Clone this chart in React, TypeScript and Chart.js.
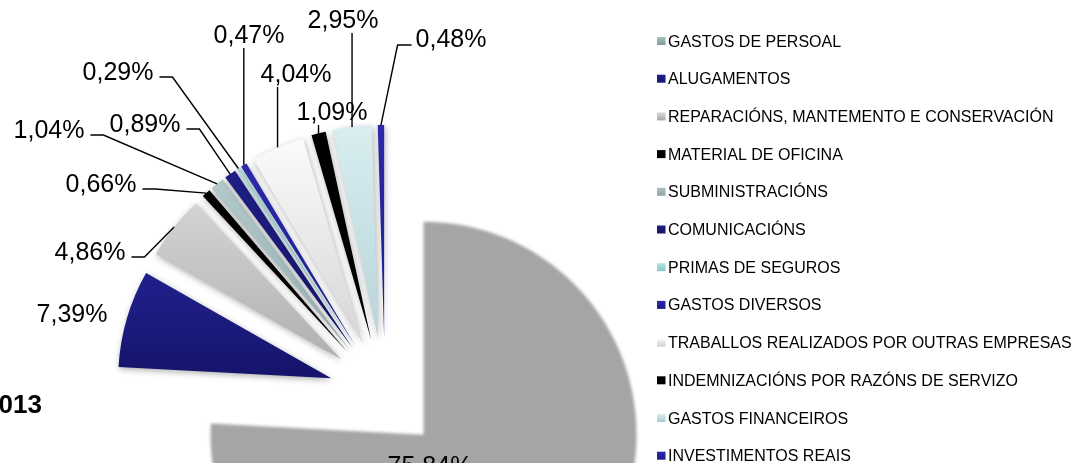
import React, { useEffect, useRef } from 'react';
import { Chart, registerables } from 'chart.js';

Chart.register(...registerables);

// ---------- data ----------
const CATEGORIES = [
  'GASTOS DE PERSOAL',
  'ALUGAMENTOS',
  'REPARACIÓNS, MANTEMENTO E CONSERVACIÓN',
  'MATERIAL DE OFICINA',
  'SUBMINISTRACIÓNS',
  'COMUNICACIÓNS',
  'PRIMAS DE SEGUROS',
  'GASTOS DIVERSOS',
  'TRABALLOS REALIZADOS POR OUTRAS EMPRESAS',
  'INDEMNIZACIÓNS POR RAZÓNS DE SERVIZO',
  'GASTOS FINANCEIROS',
  'INVESTIMENTOS REAIS',
];
const SHARES = [75.84, 7.39, 4.86, 0.66, 1.04, 0.89, 0.29, 0.47, 4.04, 1.09, 2.95, 0.48];
const VALUE_LABELS = SHARES.map((v) => v.toFixed(2).replace('.', ',') + '%');
const YEAR_LABEL = '2013';

// ---------- styles ----------
const SLICE_TOP = ['#A5A5A5', '#20208E', '#D4D4D4', '#000000', '#B2C8CA', '#1E1E86', '#B0E0E2', '#2A2AAA', '#FBFBFB', '#000000', '#D8EEF1', '#2A2AAA'];
const SLICE_BOTTOM = ['#A5A5A5', '#14146A', '#B0B0B0', '#000000', '#97AFB1', '#141466', '#96CCCE', '#1C1C8C', '#D6D6D6', '#000000', '#B8D4D8', '#1C1C8C'];
const SWATCH_TOP = ['#A9C2C2', '#20208E', '#DADADA', '#000000', '#ADC0C2', '#1E1E86', '#B4E4E6', '#2A2AAA', '#FAFAFA', '#000000', '#D8EEF1', '#2A2AAA'];
const SWATCH_BOTTOM = ['#7E9C9C', '#14146A', '#A8A8A8', '#000000', '#8EA4A6', '#141466', '#8CC6C8', '#1C1C8C', '#CFCFCF', '#000000', '#A8C8CC', '#1C1C8C'];

const FONT = "'Liberation Sans', Arial, sans-serif";
const EXPLODE = 56;
const RADIUS = 213;

// label text anchor: [centerX, baselineY]
const LABEL_POS: [number, number][] = [
  [430, 474],
  [72, 322],
  [90, 260],
  [101, 192],
  [49, 138],
  [145, 132],
  [118, 80],
  [249, 43],
  [296, 82],
  [332, 120],
  [343, 28],
  [451, 47],
];
const LABEL_SIDE = ['none', 'none', 'left', 'left', 'left', 'left', 'left', 'top', 'top', 'top', 'top', 'right'];

const LEGEND_X = 657;
const LEGEND_Y0 = 41;
const LEGEND_STEP = 37.7;

const explodePlugin = {
  id: 'explodeSlices',
  beforeDatasetDraw(chart: any, args: any) {
    const ctx: CanvasRenderingContext2D = chart.ctx;
    const arcs = args.meta.data;
    arcs.forEach((arc: any, i: number) => {
      const p = arc.getProps(['x', 'y', 'startAngle', 'endAngle', 'outerRadius'], true);
      const mid = (p.startAngle + p.endAngle) / 2;
      let minY = p.y;
      let maxY = p.y;
      for (let k = 0; k <= 40; k++) {
        const a = p.startAngle + ((p.endAngle - p.startAngle) * k) / 40;
        const yy = p.y + Math.sin(a) * p.outerRadius;
        minY = Math.min(minY, yy);
        maxY = Math.max(maxY, yy);
      }
      const g = ctx.createLinearGradient(0, minY, 0, maxY);
      g.addColorStop(0, SLICE_TOP[i]);
      g.addColorStop(1, SLICE_BOTTOM[i]);
      const orig = arc.options;
      arc.options = { ...orig, backgroundColor: g };
      ctx.save();
      ctx.translate(Math.cos(mid) * EXPLODE, Math.sin(mid) * EXPLODE);
      if (i === 0) {
        ctx.filter = 'blur(1.5px)';
      } else {
        ctx.shadowColor = 'rgba(0,0,0,0.32)';
        ctx.shadowBlur = 6;
        ctx.shadowOffsetX = 1;
        ctx.shadowOffsetY = 2;
      }
      arc.draw(ctx);
      ctx.restore();
      arc.options = orig;
    });
    return false;
  },
};

const labelPlugin = {
  id: 'labelsAndLegend',
  afterDraw(chart: any) {
    const ctx: CanvasRenderingContext2D = chart.ctx;
    const arcs = chart.getDatasetMeta(0).data;
    ctx.save();
    // value labels + leader lines
    ctx.font = `25px ${FONT}`;
    ctx.fillStyle = '#000';
    ctx.strokeStyle = '#000';
    ctx.lineWidth = 1.4;
    ctx.textBaseline = 'alphabetic';
    ctx.textAlign = 'center';
    arcs.forEach((arc: any, i: number) => {
      const p = arc.getProps(['x', 'y', 'startAngle', 'endAngle', 'outerRadius'], true);
      const mid = (p.startAngle + p.endAngle) / 2;
      const ax = p.x + Math.cos(mid) * (EXPLODE + p.outerRadius);
      const ay = p.y + Math.sin(mid) * (EXPLODE + p.outerRadius);
      const [tx, ty] = LABEL_POS[i];
      const text = VALUE_LABELS[i];
      const w = ctx.measureText(text).width;
      ctx.fillText(text, tx, ty);
      const side = LABEL_SIDE[i];
      ctx.beginPath();
      if (side === 'left') {
        const sx = tx + w / 2 + 6;
        const sy = ty - 3;
        ctx.moveTo(sx, sy);
        ctx.lineTo(sx + 13, sy);
        ctx.lineTo(ax, ay);
      } else if (side === 'right') {
        const sx = tx - w / 2 - 4;
        const sy = ty - 2;
        ctx.moveTo(sx, sy);
        ctx.lineTo(sx - 14, sy);
        ctx.lineTo(ax, ay);
      } else if (side === 'top') {
        ctx.moveTo(ax, ty + 5);
        ctx.lineTo(ax, ay);
      }
      if (side !== 'none') ctx.stroke();
    });

    // legend
    ctx.font = `16px ${FONT}`;
    ctx.textAlign = 'left';
    CATEGORIES.forEach((name, i) => {
      const yc = LEGEND_Y0 + i * LEGEND_STEP;
      const g = ctx.createLinearGradient(0, yc - 4, 0, yc + 4);
      g.addColorStop(0, SWATCH_TOP[i]);
      g.addColorStop(1, SWATCH_BOTTOM[i]);
      ctx.fillStyle = g;
      ctx.fillRect(LEGEND_X, yc - 4, 8.5, 8);
      ctx.fillStyle = '#000';
      ctx.fillText(name, LEGEND_X + 11, yc + 5.5);
    });

    // year text (cut at left edge)
    ctx.font = `bold 26px ${FONT}`;
    ctx.textAlign = 'right';
    ctx.fillText(YEAR_LABEL, 42, 413);
    ctx.restore();
  },
};

export default function App() {
  const ref = useRef<HTMLCanvasElement>(null);
  useEffect(() => {
    const canvas = ref.current;
    if (!canvas) return;
    const chart = new Chart(canvas, {
      type: 'pie',
      data: {
        labels: CATEGORIES,
        datasets: [
          {
            data: SHARES,
            backgroundColor: SLICE_BOTTOM,
            borderWidth: 0,
            radius: RADIUS,
          } as any,
        ],
      },
      options: {
        responsive: false,
        animation: false,
        devicePixelRatio: 1,
        rotation: 0,
        circumference: 360,
        layout: { padding: { left: 0, right: 302, top: 0, bottom: 0 } },
        plugins: {
          legend: { display: false },
          tooltip: { enabled: false },
        },
        events: [],
      } as any,
      plugins: [explodePlugin, labelPlugin],
    });
    return () => chart.destroy();
  }, []);
  return (
    <div
      style={{
        position: 'fixed',
        left: 0,
        top: 0,
        width: 1072,
        height: 463,
        overflow: 'hidden',
        background: '#ffffff',
      }}
    >
      <canvas ref={ref} width={1072} height={788} style={{ display: 'block', width: 1072, height: 788 }} />
    </div>
  );
}
